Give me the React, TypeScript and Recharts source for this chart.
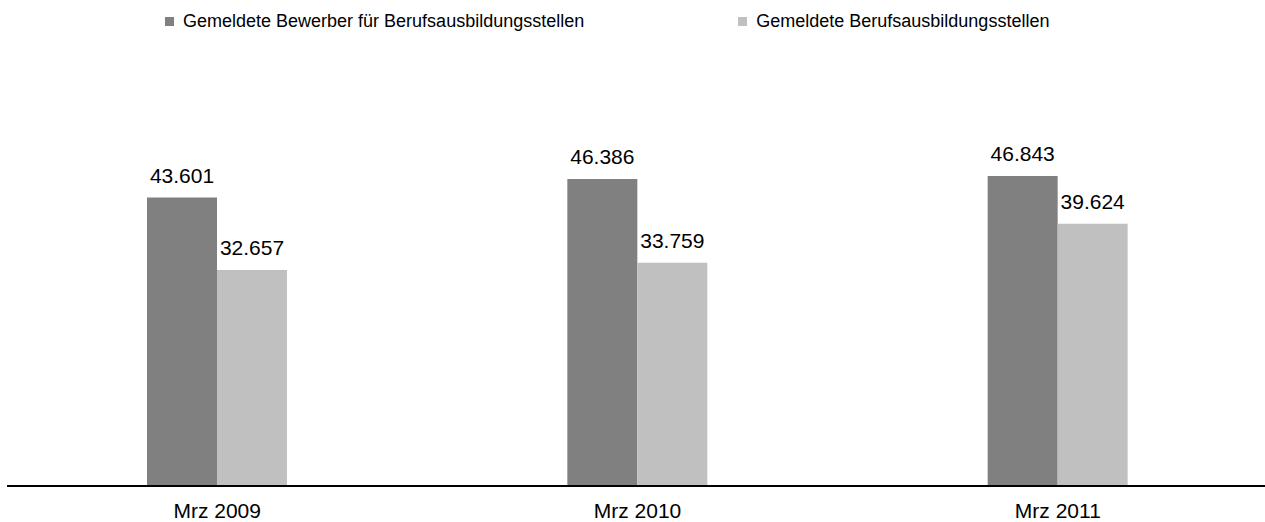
import * as React from "react";
import { Bar, BarChart, LabelList, Legend, XAxis, YAxis } from "recharts";

const months = ["Mrz 2009", "Mrz 2010", "Mrz 2011"];
const bewerber = [43601, 46386, 46843];
const stellen = [32657, 33759, 39624];
const seriesNames = [
  "Gemeldete Bewerber für Berufsausbildungsstellen",
  "Gemeldete Berufsausbildungsstellen",
];
const seriesColors = ["#808080", "#c0c0c0"];

const data = months.map((m, i) => ({ month: m, bewerber: bewerber[i], stellen: stellen[i] }));

const FONT = "'Liberation Sans', Arial, sans-serif";

// 43601 -> "43.601"
const fmt = (v: any) => String(v).replace(/\B(?=(\d{3})+(?!\d))/g, ".");

function LegendBox() {
  return (
    <div style={{ display: "flex", height: 22, alignItems: "center", paddingLeft: 165, fontFamily: FONT, fontSize: 18, color: "#000" }}>
      {seriesNames.map((name, i) => (
        <div key={name} style={{ display: "flex", alignItems: "center", marginRight: i === 0 ? 154 : 0 }}>
          <span style={{ display: "inline-block", width: 9, height: 9, background: seriesColors[i], marginRight: 9 }} />
          <span style={{ whiteSpace: "nowrap" }}>{name}</span>
        </div>
      ))}
    </div>
  );
}

export default function App() {
  return (
    <div style={{ position: "absolute", left: 0, top: 0, width: 1265, height: 522, background: "#fff" }}>
      <BarChart
        width={1265}
        height={522}
        data={data}
        margin={{ top: 67, right: -3, left: 7, bottom: 6 }}
        barGap={0}
        barCategoryGap="33.3%"
      >
        <Legend
          verticalAlign="top"
          align="left"
          content={() => <LegendBox />}
          wrapperStyle={{ top: 10, left: 0, width: 1265, height: 22 }}
        />
        <XAxis
          dataKey="month"
          height={30}
          axisLine={{ stroke: "#000", strokeWidth: 2 }}
          tickLine={false}
          tickSize={0}
          tickMargin={17}
          tick={{ fill: "#000", fontSize: 21, fontFamily: FONT }}
        />
        <YAxis hide domain={[0, 60000]} />
        <Bar dataKey="bewerber" name={seriesNames[0]} fill={seriesColors[0]} barSize={70} isAnimationActive={false}>
          <LabelList dataKey="bewerber" position="top" offset={15} formatter={fmt} fill="#000" fontSize={21} fontFamily={FONT} />
        </Bar>
        <Bar dataKey="stellen" name={seriesNames[1]} fill={seriesColors[1]} barSize={70} isAnimationActive={false}>
          <LabelList dataKey="stellen" position="top" offset={15} formatter={fmt} fill="#000" fontSize={21} fontFamily={FONT} />
        </Bar>
      </BarChart>
    </div>
  );
}
